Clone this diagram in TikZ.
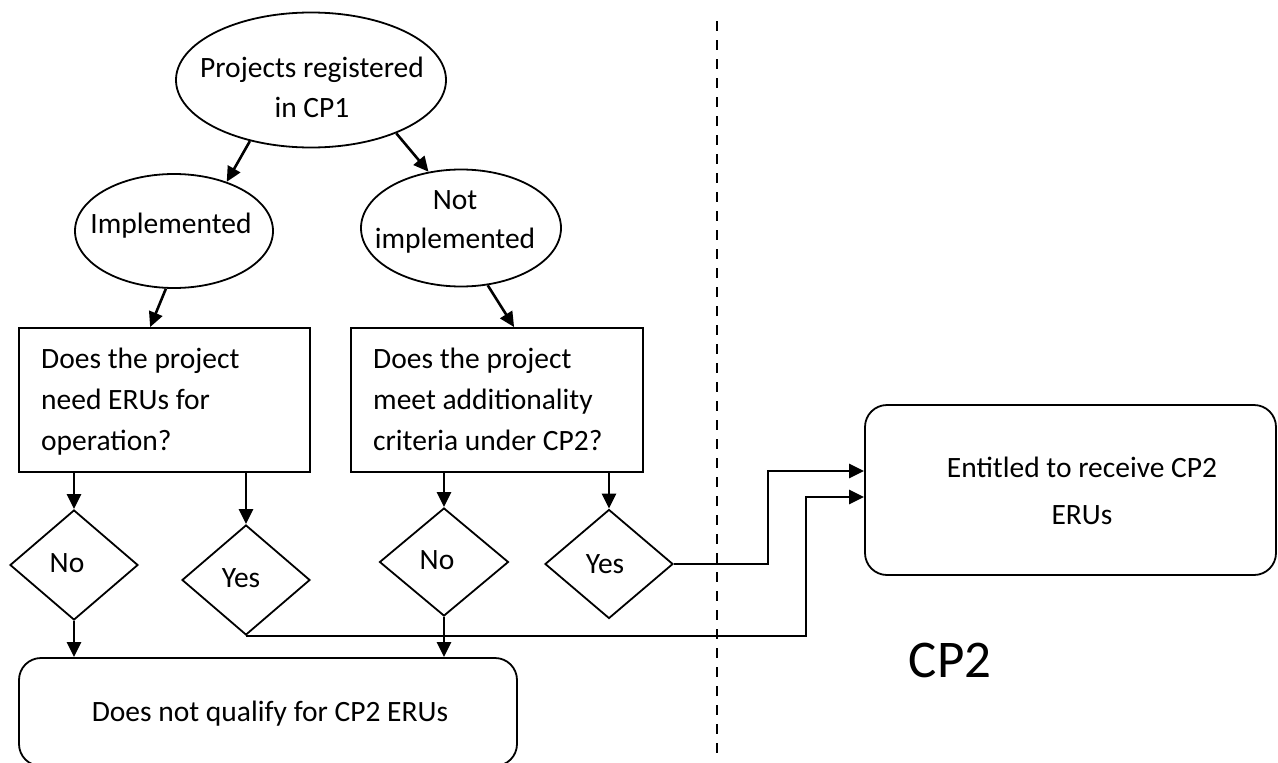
\documentclass[tikz,border=0pt]{standalone}
\usepackage{fontspec}
\setmainfont{Carlito}
\usetikzlibrary{shapes.geometric,arrows.meta,calc}
\begin{document}
\begin{tikzpicture}[x=1pt,y=-1pt,
  shapeline/.style={draw=black, line width=1.8pt},
  ell/.style={shapeline, ellipse, inner sep=0pt},
  sq/.style={shapeline, rectangle, inner sep=0pt},
  rbox/.style={shapeline, rectangle, rounded corners=22pt, inner sep=0pt},
  dia/.style={shapeline, diamond, inner sep=0pt},
  txt/.style={font=\fontsize{29.5}{40}\selectfont, inner sep=0pt, anchor=base},
  ltxt/.style={txt, anchor=base west},
  conn/.style={line width=2.6pt, -{Triangle[length=15pt,width=14pt]}},
]
\clip (0,0) rectangle (1278,763);

% shapes
\node[ell, minimum width=270pt, minimum height=135pt] (top) at (311,80) {};
\node[ell, minimum width=198pt, minimum height=114pt] (impl) at (174,231) {};
\node[ell, minimum width=200pt, minimum height=117pt] (notimpl) at (461,228) {};
\node[sq, minimum width=291pt, minimum height=144pt] (box1) at (164.5,400) {};
\node[sq, minimum width=292pt, minimum height=144pt] (box2) at (497,400) {};
\node[dia, minimum width=128pt, minimum height=110pt] (no1) at (74,565) {};
\node[dia, minimum width=128pt, minimum height=110pt] (yes1) at (246,580) {};
\node[dia, minimum width=129pt, minimum height=108pt] (no2) at (444,562) {};
\node[dia, minimum width=128pt, minimum height=109pt] (yes2) at (609,564) {};
\node[rbox, minimum width=498pt, minimum height=108pt] (bottom) at (268,712) {};
\node[rbox, minimum width=411pt, minimum height=170pt] (entitled) at (1070.5,490) {};

% texts
\node[txt] (t1a) at (312,77) {Projects registered};
\node[txt] (t1b) at (312,117) {in CP1};
\node[txt] (t2) at (171,233) {Implemented};
\node[txt] (t3a) at (455,209) {Not};
\node[txt] (t3b) at (455,248) {implemented};
\node[ltxt] (t4a) at (41,368) {Does the project};
\node[ltxt] (t4b) at (41,409) {need ERUs for};
\node[ltxt] (t4c) at (41,450) {operation?};
\node[ltxt] (t5a) at (373,368) {Does the project};
\node[ltxt] (t5b) at (373,409) {meet additionality};
\node[ltxt] (t5c) at (373,450) {criteria under CP2?};
\node[txt] (t6) at (67,572) {No};
\node[txt] (t7) at (241,587) {Yes};
\node[txt] (t8) at (437,569) {No};
\node[txt] (t9) at (605,573) {Yes};
\node[txt] (t10) at (270,721) {Does not qualify for CP2 ERUs};
\node[txt] (t11a) at (1082,477) {Entitled to receive CP2};
\node[txt] (t11b) at (1082,524) {ERUs};
\node[font=\fontsize{53}{60}\selectfont, inner sep=0pt, anchor=base] (cp2) at (950,677) {CP2};

% divider
\coordinate (dtop) at (717,21);
\coordinate (dbot) at (717,755);
\draw[line width=2.8pt, dash pattern=on 10pt off 9pt] (dtop) -- (dbot);

% connectors
\draw[conn] (top.225) -- (impl.43);
\draw[conn] (top.328) -- (notimpl.120);
\draw[conn] (impl.262) -- ($(box1.north west)+(132,0)$);
\draw[conn] (notimpl.295) -- ($(box2.north west)+(164,0)$);
\draw[conn] (box1.south -| no1) -- (no1.north);
\draw[conn] (box1.south -| yes1) -- (yes1.north);
\draw[conn] (box2.south -| no2) -- (no2.north);
\draw[conn] (box2.south -| yes2) -- (yes2.north);
\draw[conn] (no1.south) -- (bottom.north -| no1);
\draw[conn] (no2.south) -- (bottom.north -| no2);
\coordinate (e1) at ($(entitled.west)+(0,-19)$);
\coordinate (e2) at ($(entitled.west)+(0,7)$);
\draw[conn] (yes2.east) -| ($(e1)+(-96,0)$) -- (e1);
\draw[conn] (yes1.south) -| ($(e2)+(-58,0)$) -- (e2);
\end{tikzpicture}
\end{document}
